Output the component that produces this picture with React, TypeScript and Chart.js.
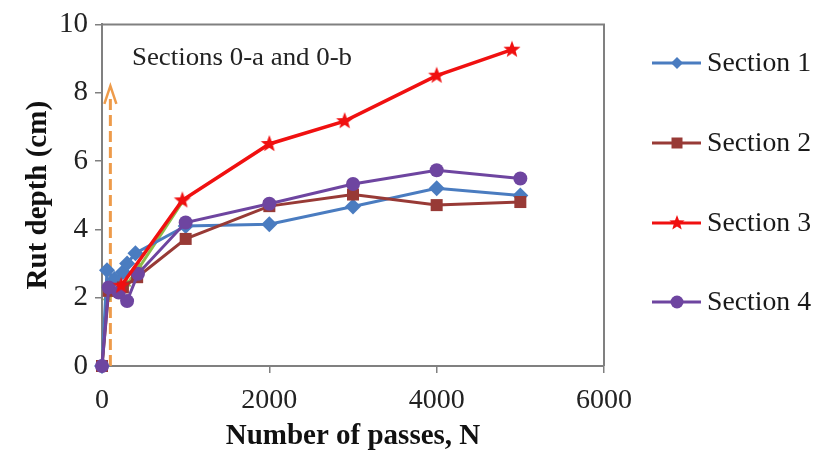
import { useEffect, useRef } from 'react';
import { Chart, registerables } from 'chart.js';

Chart.register(...registerables);

const sectionNames = ['Section 1', 'Section 2', 'Section 3', 'Section 4'];
const sectionColors = ['#4A7CC0', '#983A36', '#F01010', '#6E45A0'];

const s1Passes = [0, 60, 150, 250, 300, 400, 1000, 2000, 3000, 4000, 5000];
const s1Rut = [0, 2.8, 2.55, 2.75, 3.0, 3.3, 4.1, 4.15, 4.67, 5.2, 4.99];
const s2Passes = [0, 80, 250, 420, 1000, 2000, 3000, 4000, 5000];
const s2Rut = [0, 2.2, 2.3, 2.6, 3.72, 4.68, 5.02, 4.71, 4.8];
const s3Passes = [230, 960, 2000, 2900, 4000, 4900];
const s3Rut = [2.35, 4.85, 6.5, 7.17, 8.5, 9.26];
const s4Passes = [0, 80, 200, 300, 430, 1000, 2000, 3000, 4000, 5000];
const s4Rut = [0, 2.3, 2.15, 1.9, 2.7, 4.2, 4.75, 5.33, 5.73, 5.49];
const s0Passes = [0, 60, 150, 300, 450, 960];
const s0Rut = [0, 2.0, 2.1, 2.4, 2.9, 4.8];
const arrowPasses = [100, 100];
const arrowRut = [0, 7.9];
const arrowTip = 8.2;

const xTicks = [0, 2000, 4000, 6000];
const yTicks = [0, 2, 4, 6, 8, 10];
const annotationText = 'Sections 0-a and 0-b';
const xTitle = 'Number of passes, N';
const yTitle = 'Rut depth (cm)';

const SERIF = '"Liberation Serif", "Times New Roman", Times, serif';

const pts = (xs: number[], ys: number[]) => xs.map((x, i) => ({ x, y: ys[i] }));

function makeStar(color: string, outer: number, inner: number): HTMLCanvasElement {
  const size = Math.ceil(outer * 2 + 2);
  const c = document.createElement('canvas');
  c.width = size;
  c.height = size;
  const g = c.getContext('2d')!;
  const cx = size / 2;
  const cy = size / 2;
  g.beginPath();
  for (let i = 0; i < 10; i++) {
    const r = i % 2 === 0 ? outer : inner;
    const a = -Math.PI / 2 + (i * Math.PI) / 5;
    const px = cx + r * Math.cos(a);
    const py = cy + r * Math.sin(a);
    if (i === 0) g.moveTo(px, py);
    else g.lineTo(px, py);
  }
  g.closePath();
  g.fillStyle = color;
  g.fill();
  return c;
}

function drawMarker(ctx: CanvasRenderingContext2D, kind: number, x: number, y: number, color: string, star: HTMLCanvasElement) {
  ctx.save();
  ctx.fillStyle = color;
  ctx.beginPath();
  if (kind === 0) {
    const r = 6;
    ctx.moveTo(x, y - r);
    ctx.lineTo(x + r, y);
    ctx.lineTo(x, y + r);
    ctx.lineTo(x - r, y);
    ctx.closePath();
    ctx.fill();
  } else if (kind === 1) {
    ctx.rect(x - 5.5, y - 5.5, 11, 11);
    ctx.fill();
  } else if (kind === 2) {
    ctx.drawImage(star, x - star.width / 2, y - star.height / 2);
  } else {
    ctx.arc(x, y, 6.5, 0, Math.PI * 2);
    ctx.fill();
  }
  ctx.restore();
}

function fitText(ctx: CanvasRenderingContext2D, text: string, x: number, y: number, width: number) {
  const w = ctx.measureText(text).width;
  const sx = w > 0 ? width / w : 1;
  ctx.save();
  ctx.translate(x, y);
  ctx.scale(sx, 1);
  ctx.fillText(text, 0, 0);
  ctx.restore();
}

export default function App() {
  const ref = useRef<HTMLCanvasElement | null>(null);

  useEffect(() => {
    if (!ref.current) return;
    const star = makeStar(sectionColors[2], 9, 3.8);
    const legendStar = makeStar(sectionColors[2], 8, 3.4);

    const deco = {
      id: 'deco',
      afterDatasetsDraw(chart: any) {
        const { ctx, scales } = chart;
        const x = scales.x.getPixelForValue(arrowPasses[0]);
        const y = scales.y.getPixelForValue(arrowTip);
        ctx.save();
        ctx.strokeStyle = '#EE9B4A';
        ctx.lineWidth = 2.5;
        ctx.lineJoin = 'miter';
        ctx.beginPath();
        ctx.moveTo(x - 6, y + 18);
        ctx.lineTo(x, y);
        ctx.lineTo(x + 6, y + 18);
        ctx.stroke();
        ctx.restore();
      },
      afterDraw(chart: any) {
        const { ctx, chartArea } = chart;
        ctx.save();
        ctx.strokeStyle = '#808080';
        ctx.lineWidth = 2;
        ctx.beginPath();
        ctx.moveTo(chartArea.left, chartArea.top);
        ctx.lineTo(chartArea.right, chartArea.top);
        ctx.lineTo(chartArea.right, chartArea.bottom);
        ctx.stroke();

        ctx.fillStyle = '#222';
        ctx.font = `26px ${SERIF}`;
        ctx.textBaseline = 'alphabetic';
        ctx.textAlign = 'left';
        fitText(ctx, annotationText, 132, 65, 220);

        const rows = [63, 143, 223, 302];
        ctx.font = `27px ${SERIF}`;
        ctx.textBaseline = 'middle';
        sectionNames.forEach((name, i) => {
          const y = rows[i];
          ctx.strokeStyle = sectionColors[i];
          ctx.lineWidth = 3;
          ctx.beginPath();
          ctx.moveTo(652, y);
          ctx.lineTo(701, y);
          ctx.stroke();
          drawMarker(ctx, i, 677, y, sectionColors[i], legendStar);
          ctx.fillStyle = '#1a1a1a';
          fitText(ctx, name, 707, y + 1, 104);
        });
        ctx.restore();
      },
    };

    const chart = new Chart(ref.current, {
      type: 'line',
      data: {
        datasets: [
          {
            label: sectionNames[2],
            data: pts(s3Passes, s3Rut),
            borderColor: sectionColors[2],
            backgroundColor: sectionColors[2],
            borderWidth: 3.5,
            pointStyle: star as any,
            pointRadius: 9,
            order: 0,
            clip: false as any,
          },
          {
            label: sectionNames[3],
            data: pts(s4Passes, s4Rut),
            borderColor: sectionColors[3],
            backgroundColor: sectionColors[3],
            borderWidth: 3,
            pointStyle: 'circle',
            pointRadius: 7,
            pointBorderWidth: 0,
            order: 1,
            clip: false as any,
          },
          {
            label: sectionNames[1],
            data: pts(s2Passes, s2Rut),
            borderColor: sectionColors[1],
            backgroundColor: sectionColors[1],
            borderWidth: 3,
            pointStyle: 'rect',
            pointRadius: 8.5,
            pointBorderWidth: 0,
            order: 2,
            clip: false as any,
          },
          {
            label: sectionNames[0],
            data: pts(s1Passes, s1Rut),
            borderColor: sectionColors[0],
            backgroundColor: sectionColors[0],
            borderWidth: 3,
            pointStyle: 'rectRot',
            pointRadius: 8,
            pointBorderWidth: 0,
            order: 3,
            clip: false as any,
          },
          {
            label: 'Sections 0-a and 0-b',
            data: pts(s0Passes, s0Rut),
            borderColor: '#8DBB4A',
            backgroundColor: '#8DBB4A',
            borderWidth: 3,
            pointStyle: 'triangle',
            pointRadius: 5,
            pointBorderWidth: 0,
            order: 4,
            clip: false as any,
          },
          {
            label: 'arrow',
            data: pts(arrowPasses, arrowRut),
            borderColor: '#EE9B4A',
            borderWidth: 3,
            borderDash: [11, 5],
            pointRadius: 0,
            order: 5,
            clip: false as any,
          },
        ],
      },
      options: {
        responsive: false,
        animation: false,
        events: [],
        layout: { padding: { top: 17, right: 213, left: 0, bottom: 0 } },
        plugins: { legend: { display: false }, tooltip: { enabled: false }, title: { display: false } },
        elements: { line: { tension: 0 } },
        scales: {
          x: {
            type: 'linear',
            min: 0,
            max: 6000,
            afterBuildTicks: (s: any) => {
              s.ticks = xTicks.map((v) => ({ value: v }));
            },
            afterFit: (s: any) => {
              s.height = 87;
            },
            ticks: {
              font: { family: SERIF, size: 28 },
              color: '#222',
              padding: 11,
              maxRotation: 0,
              callback: (v: any) => String(v),
            },
            grid: { drawOnChartArea: false, color: '#808080', tickLength: 7, lineWidth: 1.5 },
            border: { color: '#808080', width: 2 },
            title: {
              display: true,
              text: xTitle,
              color: '#111',
              font: { family: SERIF, size: 29, weight: 'bold', lineHeight: 1 },
              padding: { top: 0, bottom: 2 },
            },
          },
          y: {
            type: 'linear',
            min: 0,
            max: 10,
            afterBuildTicks: (s: any) => {
              s.ticks = yTicks.map((v) => ({ value: v }));
            },
            afterFit: (s: any) => {
              s.width = 102;
            },
            ticks: {
              font: { family: SERIF, size: 29 },
              color: '#222',
              padding: 7,
              callback: (v: any) => String(v),
            },
            grid: { drawOnChartArea: false, color: '#808080', tickLength: 7, lineWidth: 1.5 },
            border: { color: '#808080', width: 2 },
            title: {
              display: true,
              text: yTitle,
              color: '#111',
              font: { family: SERIF, size: 29, weight: 'bold', lineHeight: 1 },
              padding: { top: 24, bottom: 0 },
            },
          },
        },
      },
      plugins: [deco],
    } as any);

    return () => chart.destroy();
  }, []);

  return (
    <div style={{ position: 'absolute', left: 0, top: 0, width: 817, height: 453, background: '#fff' }}>
      <canvas ref={ref} width={817} height={453} />
    </div>
  );
}
